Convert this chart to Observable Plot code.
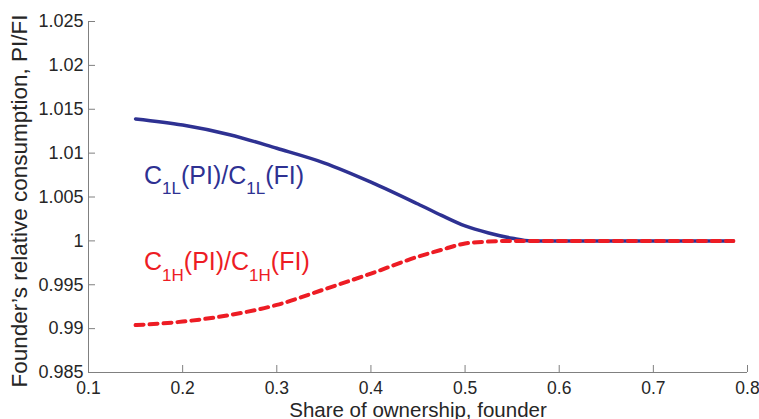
<!DOCTYPE html>
<html><head><meta charset="utf-8">
<script src="https://cdn.jsdelivr.net/npm/d3@7"></script>
<script src="https://cdn.jsdelivr.net/npm/@observablehq/plot@0.6"></script>
<style>html,body{margin:0;padding:0;background:#fff} svg{display:block}</style>
</head><body><div id="chart"></div>
<script>
// Share of ownership (x) values
const shares = [0.15,0.2,0.25,0.3,0.35,0.4,0.45,0.475,0.5,0.525,0.55,0.57,0.6,0.65,0.7,0.75,0.785];
// C1L(PI)/C1L(FI)
const lowRatio = [1.0139,1.0132,1.0121,1.01055,1.0089,1.0067,1.0042,1.0029,1.0017,1.0009,1.0003,1.0,1.0,1.0,1.0,1.0,1.0];
// C1H(PI)/C1H(FI)
const highRatio = [0.9904,0.9908,0.99155,0.9927,0.99446,0.99627,0.9982,0.99898,0.9997,0.99992,1.0,1.0,1.0,1.0,1.0,1.0,1.0];

const xTicks = [0.1,0.2,0.3,0.4,0.5,0.6,0.7,0.8];
const xTickLabels = ["0.1","0.2","0.3","0.4","0.5","0.6","0.7","0.8"];
const yTicks = [0.985,0.99,0.995,1,1.005,1.01,1.015,1.02,1.025];
const yTickLabels = ["0.985","0.99","0.995","1","1.005","1.01","1.015","1.02","1.025"];

const xTitle = "Share of ownership, founder";
const yTitle = "Founder\u2019s relative consumption, PI/FI";

// curve labels: plain text, position, subscript parts
const labelTexts = ["C1L(PI)/C1L(FI)", "C1H(PI)/C1H(FI)"];
const labelX = [0.159, 0.159];
const labelY = [1.0065, 0.99664];
const labelColors = ["#2E3192", "#ED1C24"];
const labelParts = [
  [["C",0],["1L",1],["(PI)/C",0],["1L",1],["(FI)",0]],
  [["C",0],["1H",1],["(PI)/C",0],["1H",1],["(FI)",0]]
];

const low = shares.map((x,i)=>({x, y: lowRatio[i]}));
const high = shares.map((x,i)=>({x, y: highRatio[i]}));
const labels = labelTexts.map((t,i)=>({t, x: labelX[i], y: labelY[i], c: labelColors[i]}));

const xFmt = d => xTickLabels[xTicks.findIndex(v => Math.abs(v-d) < 1e-9)] ?? "";
const yFmt = d => yTickLabels[yTicks.findIndex(v => Math.abs(v-d) < 1e-9)] ?? "";

const axisColor = "#808080";
const textColor = "#262626";

const chart = Plot.plot({
  width: 759, height: 419,
  marginLeft: 88, marginRight: 12, marginTop: 21, marginBottom: 47,
  style: {fontFamily: "'Liberation Sans', Arial, Helvetica, sans-serif", fontSize: "18px", color: textColor, background: "#fff"},
  x: {domain: [0.1, 0.8]},
  y: {domain: [0.985, 1.025]},
  marks: [
    Plot.ruleX([0.1], {stroke: axisColor, strokeWidth: 1}),
    Plot.ruleY([0.985], {stroke: axisColor, strokeWidth: 1}),
    Plot.axisX(xTicks, {tickSize: -7, text: null, label: null, stroke: axisColor}),
    Plot.axisY(yTicks, {tickSize: -7, text: null, label: null, stroke: axisColor}),
    Plot.axisX(xTicks, {tickSize: 0, tickPadding: 9, tickFormat: xFmt, label: null, fill: textColor, fontSize: 17.5}),
    Plot.axisY(yTicks, {tickSize: 0, tickPadding: 5, tickFormat: yFmt, label: null, fill: textColor, fontSize: 18}),
    Plot.text([yTitle], {frameAnchor: "left", rotate: -90, dx: -69, dy: 4, textAnchor: "middle", lineAnchor: "middle", fontSize: 22.5, fill: textColor}),
    Plot.text([xTitle], {frameAnchor: "bottom", dy: 44, lineAnchor: "bottom", textAnchor: "middle", fontSize: 20.5, fill: textColor}),
    Plot.line(low, {x: "x", y: "y", stroke: "#2E3192", strokeWidth: 3.5, curve: "monotone-x"}),
    Plot.line(high, {x: "x", y: "y", stroke: "#ED1C24", strokeWidth: 4, strokeDasharray: "8,6", curve: "monotone-x"}),
    Plot.text(labels, {x: "x", y: "y", text: "t", fill: "c", textAnchor: "start", lineAnchor: "bottom", fontSize: 25})
  ]
});

// turn curve labels into real text with subscripts
d3.select(chart).selectAll("text").each(function() {
  const idx = labelTexts.indexOf(this.textContent);
  if (idx < 0) return;
  const el = d3.select(this);
  el.text(null);
  let shifted = false;
  for (const [s, sub] of labelParts[idx]) {
    const ts = el.append("tspan").text(s);
    if (sub) { ts.attr("font-size", 17).attr("dy", shifted ? 0 : 10.5); shifted = true; }
    else { if (shifted) ts.attr("dy", -10.5); shifted = false; }
  }
});

document.getElementById("chart").appendChild(chart);
</script>
</body></html>
